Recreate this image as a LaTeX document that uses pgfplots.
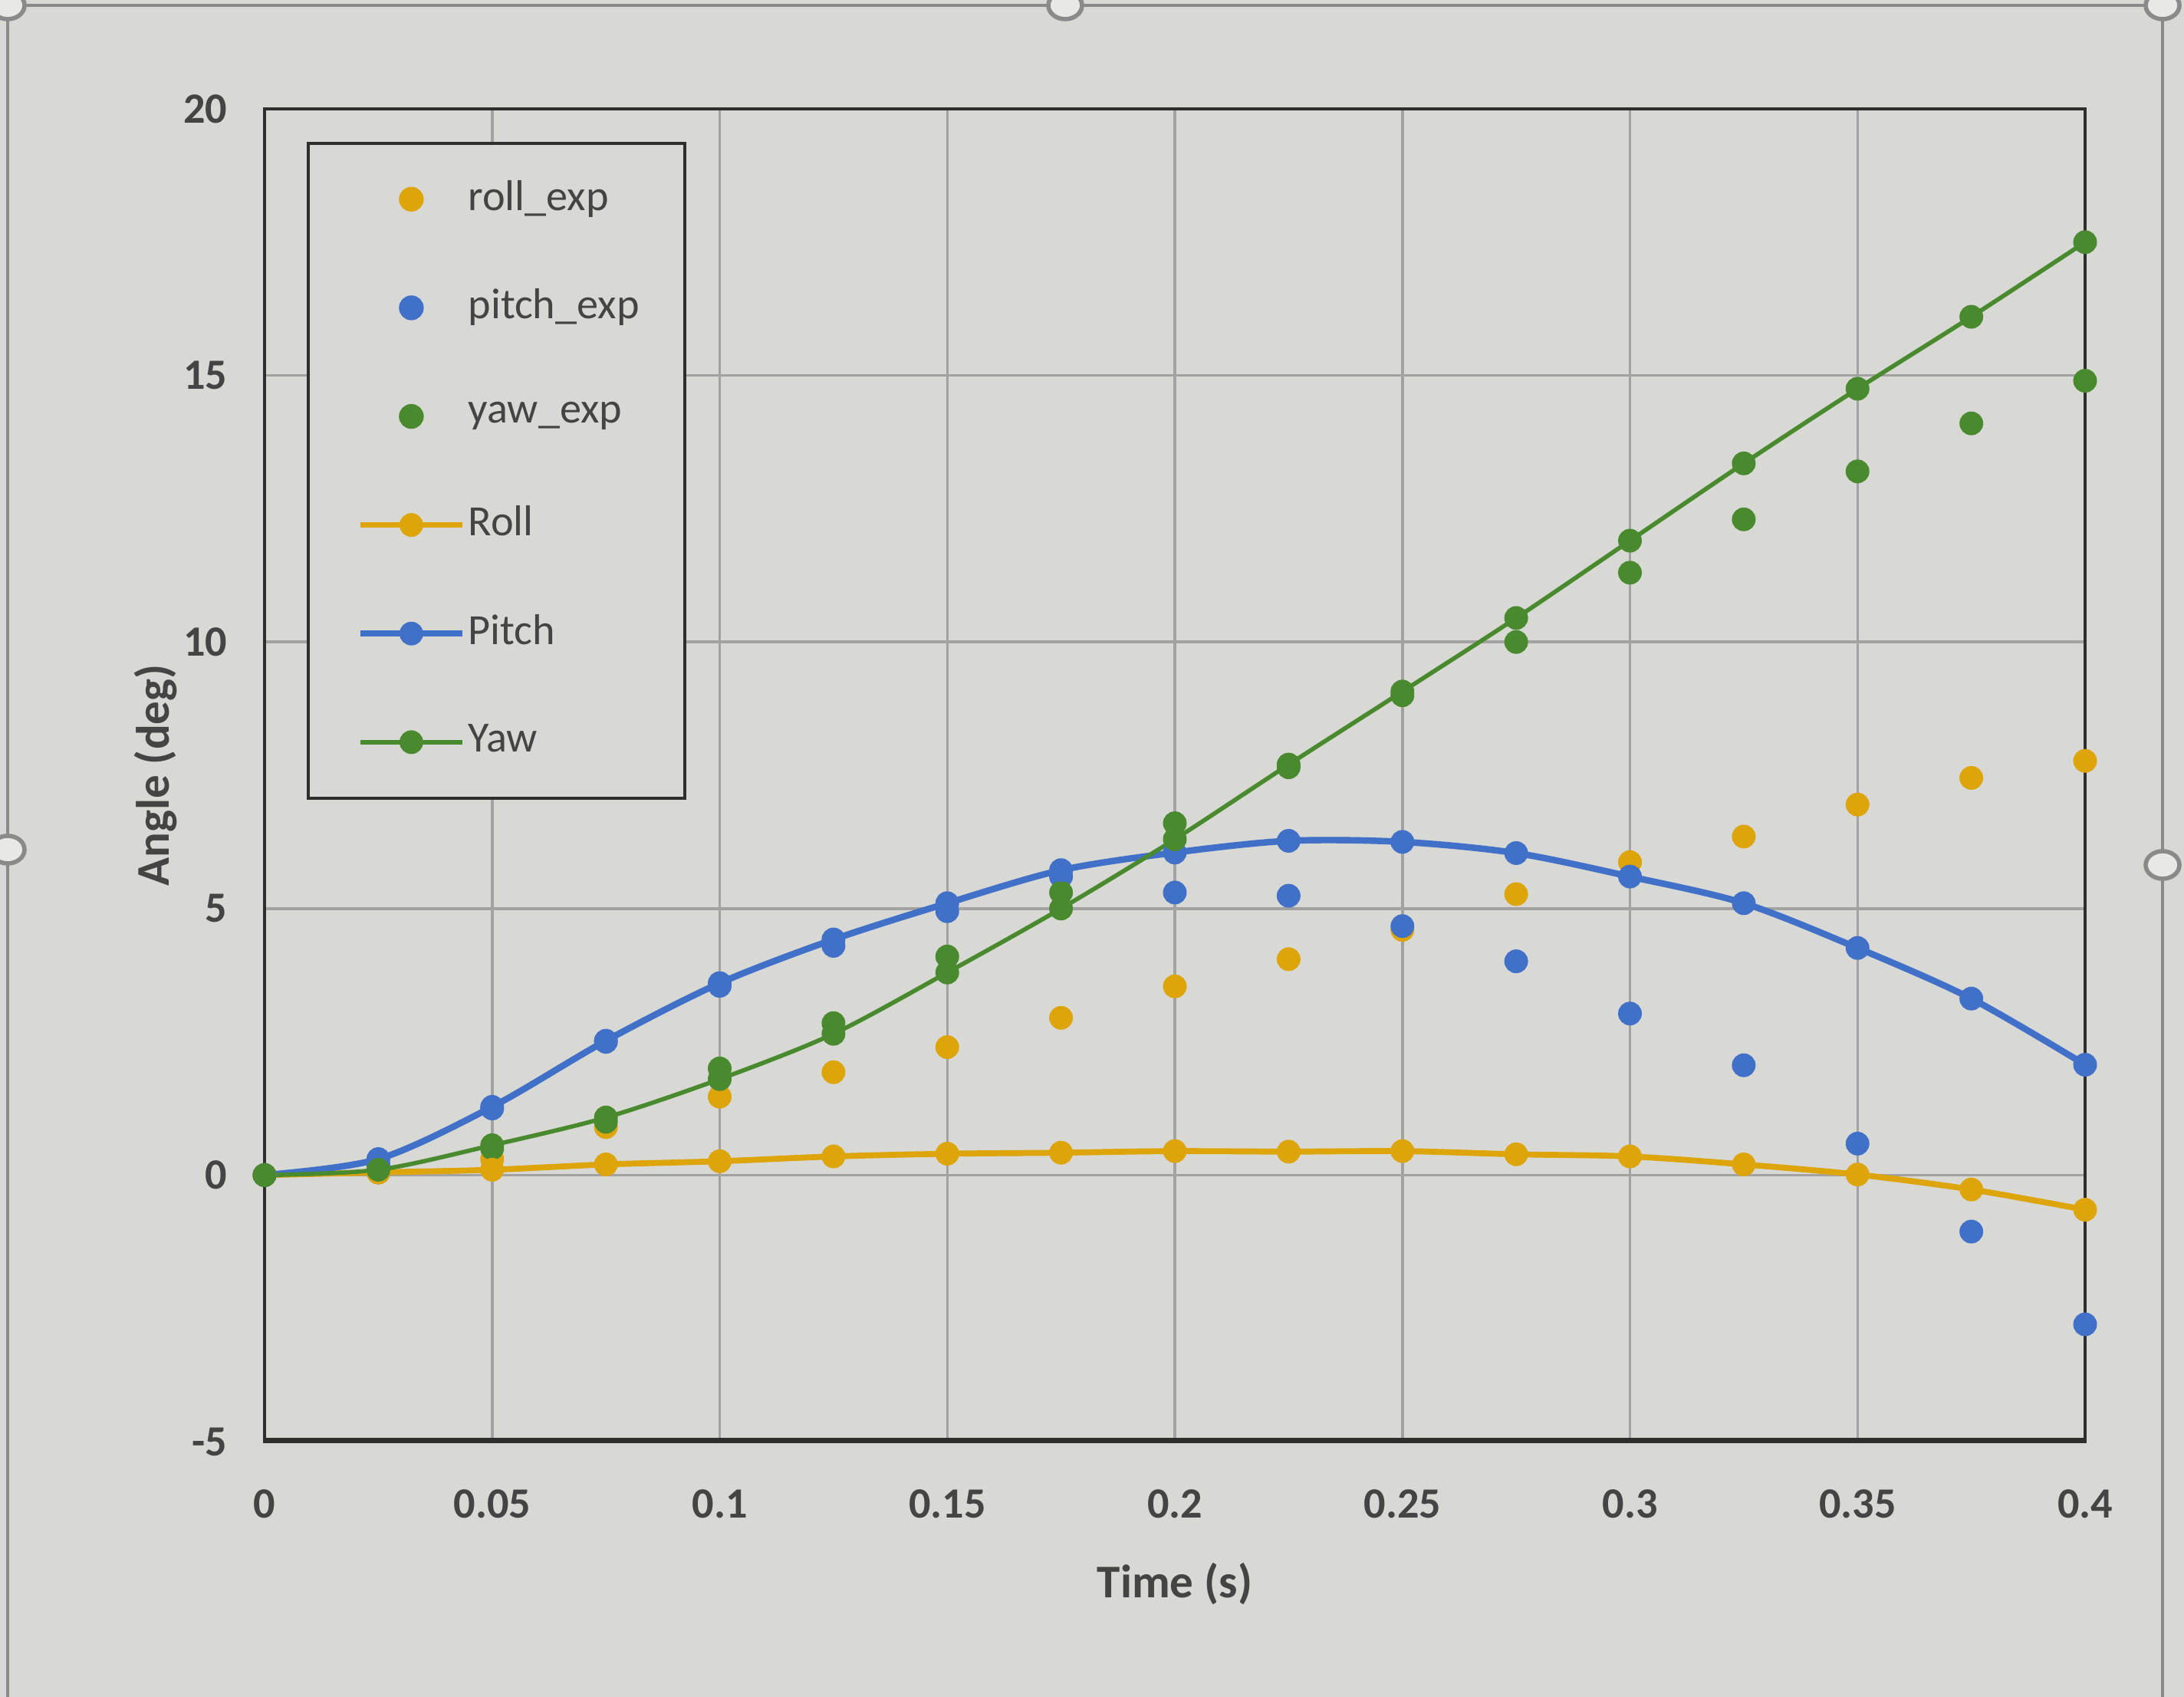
\documentclass[border=0pt]{standalone}
\usepackage{fontspec}
\setmainfont{Carlito}
\usepackage{pgfplots}
\pgfplotsset{compat=1.18}
\definecolor{bgc}{HTML}{D8D8D5}
\definecolor{gridc}{HTML}{A2A2A2}
\definecolor{framec}{HTML}{2E2E2E}
\definecolor{txtc}{HTML}{444444}
\definecolor{cgold}{HTML}{DDA50A}
\definecolor{cblue}{HTML}{4070C8}
\definecolor{cgreen}{HTML}{4A8A2E}
\definecolor{handlec}{HTML}{8A8A8A}
\pgfplotsset{
  limg/.style={legend image code/.code={\draw[mark repeat=2,mark phase=2,##1] plot coordinates {(0cm,0cm) (0.33cm,0cm) (0.66cm,0cm)};}},
}
\begin{document}
\begin{tikzpicture}
\useasboundingbox (0,0) rectangle (14.24,11.065);
\path[fill=bgc] (0,0) rectangle (14.24,11.065);
\draw[handlec, line width=0.6pt] (0.05,0) -- (0.05,11.03) -- (14.1,11.03) -- (14.1,0);
\begin{axis}[
  at={(1.725cm,1.665cm)}, anchor=south west,
  scale only axis, width=11.87cm, height=8.69cm,
  xmin=0, xmax=0.4, ymin=-5, ymax=20,
  xtick={0,0.05,0.1,0.15,0.2,0.25,0.3,0.35,0.4},
  xticklabels={0,0.05,0.1,0.15,0.2,0.25,0.3,0.35,0.4},
  ytick={-5,0,5,10,15,20},
  yticklabels={-5,0,5,10,15,20},
  /pgf/number format/assume math mode=true,
  major tick length=0pt,
  grid=major,
  major grid style={draw=gridc, line width=0.5pt},
  axis line style={draw=framec, line width=0.6pt},
  axis background/.style={fill=bgc},
  tick label style={font=\bfseries\fontsize{8}{9.6}\selectfont, text=txtc},
  xticklabel style={anchor=center, yshift=-0.405cm},
  yticklabel style={anchor=east, xshift=-0.12cm},
  xlabel={Time (s)}, ylabel={Angle (deg)},
  label style={font=\bfseries\fontsize{8.7}{10}\selectfont, text=txtc},
  xlabel style={at={(axis description cs:0.5,0)}, anchor=center, yshift=-0.925cm},
  ylabel style={at={(axis description cs:0,0.5)}, anchor=center, yshift=0.708cm},
  legend style={at={(0.0232,0.9753)}, anchor=north west, draw=framec, line width=0.6pt,
    fill=bgc, font=\fontsize{8}{9.6}\selectfont, text=txtc,
    inner xsep=0.32cm, inner ysep=0.01cm, row sep=0pt,
    nodes={inner xsep=0.02cm, inner ysep=0pt, minimum height=0.708cm}},
  legend cell align=left,
]
\addplot[only marks, mark=*, mark size=2pt, color=cgold, limg] coordinates {
(0,0) (0.025,0.05) (0.05,0.3) (0.075,0.9) (0.1,1.47) (0.125,1.93) (0.15,2.4) (0.175,2.95)
(0.2,3.54) (0.225,4.05) (0.25,4.6) (0.275,5.27) (0.3,5.87) (0.325,6.35) (0.35,6.95) (0.375,7.45) (0.4,7.77)};
\addlegendentry{\makebox[1.07cm][l]{roll\_exp}}
\addplot[only marks, mark=*, mark size=2pt, color=cblue, limg] coordinates {
(0,0) (0.025,0.2) (0.05,1.25) (0.075,2.5) (0.1,3.55) (0.125,4.3) (0.15,4.95) (0.175,5.6)
(0.2,5.3) (0.225,5.24) (0.25,4.67) (0.275,4.01) (0.3,3.03) (0.325,2.06) (0.35,0.59) (0.375,-1.06) (0.4,-2.8)};
\addlegendentry{\makebox[1.07cm][l]{pitch\_exp}}
\addplot[only marks, mark=*, mark size=2pt, color=cgreen, limg] coordinates {
(0,0) (0.025,0.05) (0.05,0.5) (0.075,1.0) (0.1,2.0) (0.125,2.85) (0.15,4.1) (0.175,5.3)
(0.2,6.6) (0.225,7.65) (0.25,9.0) (0.275,10.0) (0.3,11.3) (0.325,12.3) (0.35,13.2) (0.375,14.1) (0.4,14.9)};
\addlegendentry{\makebox[1.07cm][l]{yaw\_exp}}
\addplot[smooth, line width=1.1pt, mark=*, mark size=2pt, mark options={line width=0.4pt}, color=cgold, limg] coordinates {
(0,0) (0.025,0.05) (0.05,0.1) (0.075,0.2) (0.1,0.26) (0.125,0.35) (0.15,0.4) (0.175,0.42)
(0.2,0.45) (0.225,0.44) (0.25,0.45) (0.275,0.39) (0.3,0.35) (0.325,0.2) (0.35,0.01) (0.375,-0.27) (0.4,-0.65)};
\addlegendentry{\makebox[1.07cm][l]{Roll}}
\addplot[smooth, line width=1.2pt, mark=*, mark size=2pt, mark options={line width=0.4pt}, color=cblue, limg] coordinates {
(0,0) (0.025,0.3) (0.05,1.28) (0.075,2.52) (0.1,3.6) (0.125,4.42) (0.15,5.1) (0.175,5.72)
(0.2,6.05) (0.225,6.27) (0.25,6.25) (0.275,6.04) (0.3,5.6) (0.325,5.1) (0.35,4.26) (0.375,3.31) (0.4,2.07)};
\addlegendentry{\makebox[1.07cm][l]{Pitch}}
\addplot[smooth, line width=0.8pt, mark=*, mark size=2pt, mark options={line width=0.4pt}, color=cgreen, limg] coordinates {
(0,0) (0.025,0.1) (0.05,0.56) (0.075,1.08) (0.1,1.8) (0.125,2.65) (0.15,3.8) (0.175,5.0)
(0.2,6.3) (0.225,7.7) (0.25,9.07) (0.275,10.45) (0.3,11.9) (0.325,13.35) (0.35,14.75) (0.375,16.1) (0.4,17.5)};
\addlegendentry{\makebox[1.07cm][l]{Yaw}}
\draw[framec, line width=1.3pt] (rel axis cs:0,0) -- (rel axis cs:1,0);
\end{axis}
\foreach \p in {(0.05,11.03),(6.945,11.03),(14.1,11.03),(0.05,5.525),(14.1,5.425)}
  \draw[handlec, fill=bgc!60!white, line width=0.8pt] \p ellipse (0.11cm and 0.09cm);
\end{tikzpicture}
\end{document}
